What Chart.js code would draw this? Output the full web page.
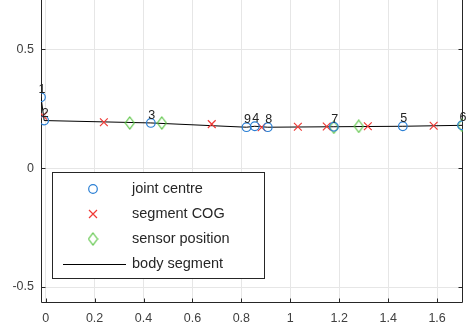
<!DOCTYPE html>
<html><head><meta charset="utf-8">
<script src="https://cdn.jsdelivr.net/npm/chart.js@4.4.1/dist/chart.umd.min.js"></script>
<style>html,body{margin:0;padding:0;background:#fff}#wrap{width:469px;height:328px;position:relative}</style>
</head><body><div id="wrap"><canvas id="c" width="469" height="328"></canvas></div>
<script>
// joint centres (label, x, y)
const jointLabels = ['1','2','3','4','5','6','7','8','9'];
const jointX = [-0.019, -0.006, 0.430, 0.855, 1.460, 1.702, 1.178, 0.908, 0.821];
const jointY = [0.298, 0.200, 0.190, 0.176, 0.176, 0.180, 0.174, 0.172, 0.172];
// segment centres of gravity
const cogX = [-0.010, 0.238, 0.679, 0.883, 1.031, 1.149, 1.317, 1.586];
const cogY = [0.220, 0.193, 0.185, 0.172, 0.174, 0.175, 0.176, 0.178];
// sensor positions
const sensorX = [0.344, 0.475, 1.178, 1.280, 1.702];
const sensorY = [0.190, 0.190, 0.172, 0.176, 0.180];
// body segment polyline (joint order)
const segmentOrder = [1, 2, 3, 9, 4, 8, 7, 5, 6];
// axis ticks
const xTicks = [0, 0.2, 0.4, 0.6, 0.8, 1, 1.2, 1.4, 1.6];
const yTicks = [-0.5, 0, 0.5];
const seriesNames = ['joint centre', 'segment COG', 'sensor position', 'body segment'];

const BLUE = '#2a7fd4', RED = '#f03a36', GREEN = '#55c23e', AX = '#262626';
function diamond(color){
  const c = document.createElement('canvas'); c.width = 11; c.height = 14;
  const g = c.getContext('2d'); g.strokeStyle = color; g.lineWidth = 1.1;
  g.beginPath(); g.moveTo(5.5,1); g.lineTo(10,7); g.lineTo(5.5,13); g.lineTo(1,7); g.closePath(); g.stroke();
  return c;
}
const dia = diamond(GREEN);
const pts = (xs, ys) => xs.map((x,i)=>({x, y: ys[i]}));
const segPts = segmentOrder.map(n => ({x: jointX[n-1], y: jointY[n-1]}));
const zeroPad = s => { s.paddingTop = 0; s.paddingBottom = 0; s.paddingLeft = 0; s.paddingRight = 0; };

const overlay = {
  id: 'overlay',
  beforeDatasetsDraw(chart){
    const {ctx, chartArea: a} = chart;
    ctx.save();
    ctx.strokeStyle = AX; ctx.lineWidth = 1;
    ctx.beginPath();
    const l = Math.round(a.left)+0.5, r = Math.round(a.right)-0.5, b = Math.round(a.bottom)+0.5;
    ctx.moveTo(l, 0); ctx.lineTo(l, b); ctx.lineTo(r, b); ctx.lineTo(r, 0);
    const xs = chart.scales.x, ys = chart.scales.y;
    xTicks.forEach(v => { const px = Math.round(xs.getPixelForValue(v))+0.5; ctx.moveTo(px, b); ctx.lineTo(px, b-4); });
    yTicks.forEach(v => { const py = Math.round(ys.getPixelForValue(v))+0.5; ctx.moveTo(l, py); ctx.lineTo(l+4, py); ctx.moveTo(r, py); ctx.lineTo(r-4, py); });
    ctx.stroke();
    ctx.restore();
  },
  afterDraw(chart){
    const {ctx} = chart;
    const xs = chart.scales.x, ys = chart.scales.y;
    ctx.save();
    ctx.fillStyle = '#222'; ctx.font = '12.5px "Liberation Sans", Arial, sans-serif';
    ctx.textAlign = 'center'; ctx.textBaseline = 'alphabetic';
    jointLabels.forEach((t,i) => {
      ctx.fillText(t, xs.getPixelForValue(jointX[i]) + 1, ys.getPixelForValue(jointY[i]) - 4);
    });
    // legend box
    const L = 52, T = 172, W = 212, H = 106;
    ctx.fillStyle = '#fff'; ctx.fillRect(L, T, W, H);
    ctx.strokeStyle = AX; ctx.lineWidth = 1; ctx.strokeRect(L+0.5, T+0.5, W, H);
    const rows = [189, 214, 239, 264], mx = 93;
    ctx.lineWidth = 1.2;
    ctx.strokeStyle = BLUE; ctx.beginPath(); ctx.arc(mx, rows[0], 4.3, 0, Math.PI*2); ctx.stroke();
    ctx.strokeStyle = RED; ctx.beginPath();
    ctx.moveTo(mx-4, rows[1]-4); ctx.lineTo(mx+4, rows[1]+4); ctx.moveTo(mx+4, rows[1]-4); ctx.lineTo(mx-4, rows[1]+4); ctx.stroke();
    ctx.drawImage(dia, mx-5.5, rows[2]-7);
    ctx.strokeStyle = '#000'; ctx.lineWidth = 1; ctx.beginPath(); ctx.moveTo(63, rows[3]+0.5); ctx.lineTo(126, rows[3]+0.5); ctx.stroke();
    ctx.fillStyle = '#262626'; ctx.font = '14.5px "Liberation Sans", Arial, sans-serif';
    ctx.textAlign = 'left'; ctx.textBaseline = 'middle';
    seriesNames.forEach((n,i) => ctx.fillText(n, 132, rows[i]));
    ctx.restore();
  }
};

new Chart(document.getElementById('c'), {
  type: 'scatter',
  data: { datasets: [
    { label: seriesNames[0], data: pts(jointX, jointY), pointStyle: 'circle', pointRadius: 4.3, borderColor: BLUE, backgroundColor: 'rgba(0,0,0,0)', borderWidth: 1.2, order: 1 },
    { label: seriesNames[1], data: pts(cogX, cogY), pointStyle: 'crossRot', pointRadius: 5.5, borderColor: RED, backgroundColor: RED, borderWidth: 1.2, order: 2 },
    { label: seriesNames[2], data: pts(sensorX, sensorY), pointStyle: dia, borderColor: GREEN, order: 3 },
    { label: seriesNames[3], data: segPts, showLine: true, pointRadius: 0, borderColor: '#000', borderWidth: 1, order: 4 }
  ]},
  plugins: [overlay],
  options: {
    responsive: false, animation: false, devicePixelRatio: 1,
    layout: { autoPadding: false, padding: { left: 0, right: 6, top: 0, bottom: 0 } },
    plugins: { legend: { display: false }, tooltip: { enabled: false } },
    scales: {
      x: { type: 'linear', min: -0.019, max: 1.706,
        afterBuildTicks: s => { s.ticks = xTicks.map(v => ({value: v})); },
        afterFit: s => { s.height = 26; zeroPad(s); },
        grid: { color: '#e6e6e6', drawTicks: false },
        border: { display: false },
        ticks: { padding: 9, color: '#404040', font: { family: '"Liberation Sans", Arial, sans-serif', size: 12.5 }, maxRotation: 0, callback: v => String(v) } },
      y: { type: 'linear', min: -0.563, max: 0.707,
        afterBuildTicks: s => { s.ticks = yTicks.map(v => ({value: v})); },
        afterFit: s => { s.width = 41; zeroPad(s); },
        grid: { color: '#e6e6e6', drawTicks: false },
        border: { display: false },
        ticks: { padding: 7, color: '#404040', font: { family: '"Liberation Sans", Arial, sans-serif', size: 12.5 }, callback: v => String(v) } }
    }
  }
});
</script></body></html>
